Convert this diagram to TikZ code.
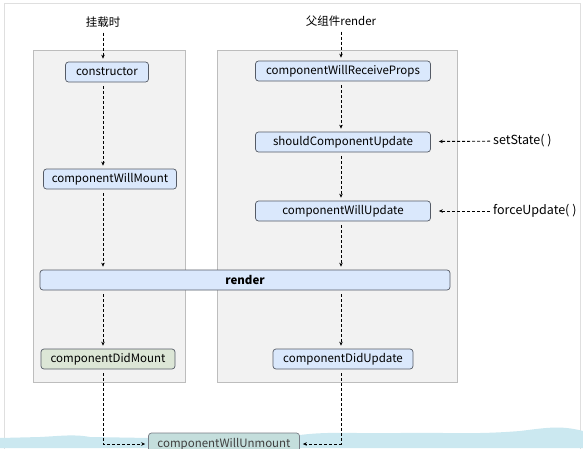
\documentclass[tikz,border=0pt]{standalone}
\usepackage{fontspec}
\setmainfont{Noto Sans CJK SC}
\usetikzlibrary{positioning,arrows.meta}

\definecolor{panelfill}{HTML}{F2F2F2}
\definecolor{panelline}{HTML}{BDBDBD}
\definecolor{boxfill}{HTML}{DAE8FC}
\definecolor{boxline}{HTML}{555B66}
\definecolor{mountfill}{HTML}{DCE6D6}
\definecolor{unmountfill}{HTML}{C4DEDC}
\definecolor{waterblue}{HTML}{C2E4EE}

\begin{document}
\begin{tikzpicture}[
    x=1pt,
    y=-1pt,
    font=\fontsize{11.5}{13}\selectfont,
    box/.style={
        rectangle,
        draw=boxline,
        fill=boxfill,
        line width=0.7pt,
        rounded corners=3pt,
        minimum height=20pt,
        inner sep=2pt,
        align=center
      },
    panel/.style={draw=panelline,fill=panelfill,line width=0.8pt},
    arrow/.style={-{Stealth[length=4pt,width=3.5pt]},densely dashed,line width=0.9pt,
        shorten <=4pt,shorten >=3pt},
    plain/.style={inner sep=1pt}
    ]

    \useasboundingbox (0,0) rectangle (583,448);
    \fill[white] (0,0) rectangle (583,448);
    \draw[gray!25] (4,452) -- (4,3) -- (580,3) -- (580,452);

    % water band at the bottom
    \fill[waterblue!85] (0,438) -- (40,437) .. controls (60,436) and (75,434) .. (90,437)
        -- (150,438) .. controls (200,436) and (260,438) .. (300,435)
        .. controls (330,431) and (360,434) .. (400,433)
        .. controls (440,432) and (470,435) .. (520,431)
        .. controls (545,428) and (560,425) .. (583,431) -- (583,448) -- (0,448) -- cycle;

    % panels
    \draw[panel] (33,50) rectangle (185,382);
    \draw[panel] (217,50) rectangle (457,382);

    % mounting
    \node[plain] (mount) at (103,22) {挂载时};
    \node[box,minimum width=83pt] (ctor) at (107,72) {constructor};
    \node[box,minimum width=133pt] (willmount) at (110,179) {componentWillMount};
    \node[box,minimum width=410pt,font=\fontsize{11.5}{13}\selectfont\bfseries] (render) at (245,280) {render};
    \node[box,minimum width=134pt,fill=mountfill] (didmount) at (108,359) {componentDidMount};
    \node[box,minimum width=151pt,minimum height=22pt,fill=unmountfill,draw=boxline!80,text=black!75] (unmount) at (224,444) {componentWillUnmount};

    % updating
    \node[plain] (parent) at (341,21) {父组件render};
    \node[box,minimum width=175pt] (receive) at (343,71) {componentWillReceiveProps};
    \node[box,minimum width=175pt] (should) at (343,142) {shouldComponentUpdate};
    \node[box,minimum width=175pt] (willupdate) at (343,211) {componentWillUpdate};
    \node[box,minimum width=140pt] (didupdate) at (343,359) {componentDidUpdate};
    \node[plain,anchor=west,font=\fontsize{12.5}{14}\selectfont] (setstate) at (492,141) {setState( )};
    \node[plain,anchor=west,font=\fontsize{12.5}{14}\selectfont] (force) at (492,211) {forceUpdate( )};

    \draw[arrow] (mount) -- (mount |- ctor.north);
    \draw[arrow] (ctor.south -| mount) -- (mount |- willmount.north);
    \draw[arrow] (willmount.south -| mount) -- (mount |- render.north);
    \draw[arrow] (render.south -| mount) -- (mount |- didmount.north);
    \draw[arrow] (didmount.south -| mount) |- (unmount.west);

    \draw[arrow] (parent) -- (parent |- receive.north);
    \draw[arrow] (receive.south -| parent) -- (parent |- should.north);
    \draw[arrow] (should.south -| parent) -- (parent |- willupdate.north);
    \draw[arrow] (willupdate.south -| parent) -- (parent |- render.north);
    \draw[arrow] (render.south -| parent) -- (parent |- didupdate.north);
    \draw[arrow] (didupdate.south -| parent) |- (unmount.east);

    \draw[arrow,shorten >=8pt,shorten <=2pt] (setstate) -- (should);
    \draw[arrow,shorten >=8pt,shorten <=2pt] (force) -- (willupdate);

  \end{tikzpicture}
\end{document}
